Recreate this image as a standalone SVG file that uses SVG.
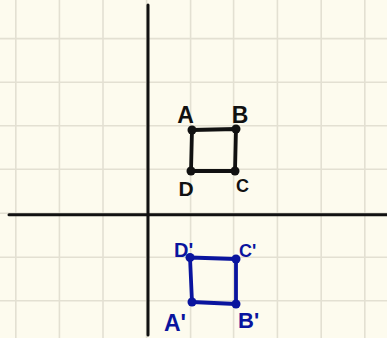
<svg xmlns="http://www.w3.org/2000/svg" width="387" height="338" viewBox="0 0 387 338">
<style>
.grid line{stroke:#e3e0d2;stroke-width:1.6}
.axis{stroke:#111;stroke-width:3;stroke-linecap:round}
.sq{fill:none;stroke-width:3.8;stroke-linejoin:round}
.blk{stroke:#111}
.blu{stroke:#0a149e}
.dk{fill:#111}
.db{fill:#0a149e}
.lbl{font-family:"Liberation Sans","DejaVu Sans",sans-serif;font-weight:bold}
</style>
<rect width="387" height="338" fill="#fdfbee"/>
<g class="grid">
<line x1="15.8" y1="0" x2="15.8" y2="338"/>
<line x1="59.4" y1="0" x2="59.4" y2="338"/>
<line x1="103" y1="0" x2="103" y2="338"/>
<line x1="146.6" y1="0" x2="146.6" y2="338"/>
<line x1="190.6" y1="0" x2="190.6" y2="338"/>
<line x1="233.6" y1="0" x2="233.6" y2="338"/>
<line x1="277.4" y1="0" x2="277.4" y2="338"/>
<line x1="321.2" y1="0" x2="321.2" y2="338"/>
<line x1="364.8" y1="0" x2="364.8" y2="338"/>
<line x1="0" y1="38.6" x2="387" y2="38.6"/>
<line x1="0" y1="82.2" x2="387" y2="82.2"/>
<line x1="0" y1="125.8" x2="387" y2="125.8"/>
<line x1="0" y1="169.2" x2="387" y2="169.2"/>
<line x1="0" y1="213.3" x2="387" y2="213.3"/>
<line x1="0" y1="257.2" x2="387" y2="257.2"/>
<line x1="0" y1="300.8" x2="387" y2="300.8"/>
</g>
<g id="axes">
<line class="axis" x1="148" y1="5" x2="148" y2="335"/>
<line class="axis" x1="9" y1="214.7" x2="387" y2="214.7"/>
</g>
<g id="square-ABCD">
<path class="sq blk" d="M192,130 L236,129 L235,171 L191,171 Z"/>
<circle class="dk" cx="192" cy="130" r="4.5"/>
<circle class="dk" cx="236" cy="129" r="4.5"/>
<circle class="dk" cx="235" cy="171" r="4.5"/>
<circle class="dk" cx="191" cy="171" r="4.5"/>
<g class="lbl" fill="#111">
<text x="185.5" y="123" font-size="23" text-anchor="middle">A</text>
<text x="240" y="123" font-size="23" text-anchor="middle">B</text>
<text x="242.5" y="192" font-size="18" text-anchor="middle">C</text>
<text x="186" y="196" font-size="21" text-anchor="middle">D</text>
</g>
</g>
<g id="square-A1B1C1D1">
<path class="sq blu" d="M190,257.5 L236,259 L236,304 L192,302 Z"/>
<circle class="db" cx="190" cy="257.5" r="4.5"/>
<circle class="db" cx="236" cy="259" r="4.5"/>
<circle class="db" cx="236" cy="304" r="4.5"/>
<circle class="db" cx="192" cy="302" r="4.5"/>
<g class="lbl" fill="#0a149e">
<text x="174" y="257" font-size="20">D'</text>
<text x="239" y="257" font-size="18">C'</text>
<text x="164" y="331" font-size="23">A'</text>
<text x="238" y="328" font-size="22">B'</text>
</g>
</g>
</svg>
